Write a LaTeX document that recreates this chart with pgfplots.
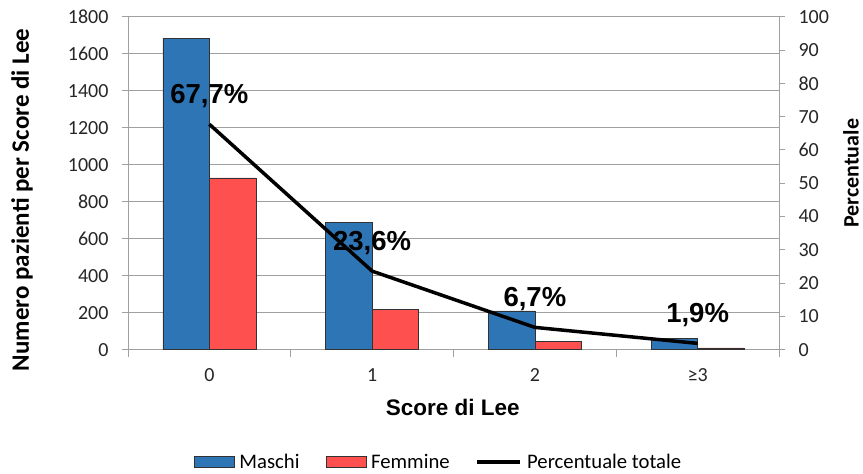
\documentclass[border=0pt]{standalone}
\usepackage{fontspec}
\setmainfont{Carlito}
\newfontfamily\arialfont{Liberation Sans}
\usepackage{pgfplots}
\pgfplotsset{compat=1.18}
\pgfplotsset{
  barlegend/.style={legend image code/.code={\draw[##1, line width=0.6pt] (0pt,-5.5pt) rectangle (40pt,5.5pt);}},
  linelegend/.style={legend image code/.code={\draw[##1] (0pt,0pt) -- (43pt,0pt);}},
}
\definecolor{mblue}{RGB}{46,117,182}
\definecolor{fred}{RGB}{255,80,80}
\definecolor{gridgray}{RGB}{160,160,160}
\definecolor{edge}{RGB}{50,50,50}
\pgfplotstableread{
x m f
0 1684 929
1 690 217
2 210 45
3 62 10
}\counts
\begin{document}
\begin{tikzpicture}
\useasboundingbox (-128pt,-124.3pt) rectangle (735pt,349.7pt);
\begin{axis}[
  scale only axis, width=651pt, height=333pt,
  at={(0,0)}, anchor=south west,
  xmin=-0.5, xmax=3.5, ymin=0, ymax=1800,
  ybar=0pt, bar width=46.5pt,
  axis x line*=bottom, axis y line*=left,
  axis line style={gridgray, line width=0.8pt, -},
  xtick={0,1,2,3}, xticklabels={0,1,2,≥3},
  major x tick style={draw=none},
  minor xtick={-0.5,0.5,1.5,2.5,3.5},
  minor tick length=7pt, major tick length=6pt,
  tick align=outside,
  tick style={gridgray, line width=0.8pt},
  ytick={0,200,...,1800},
  ymajorgrids, grid style={gridgray, line width=0.8pt},
  /pgf/number format/assume math mode=true,
  /pgf/number format/1000 sep={},
  tick label style={font=\fontsize{20}{23}\selectfont, text=black!85},
  xticklabel style={yshift=-9pt},
  yticklabel style={xshift=-10pt},
  xlabel={\arialfont\bfseries Score di Lee},
  xlabel style={font=\fontsize{22.5}{26}\selectfont, at={(axis description cs:0.499,-0.172)}, anchor=center},
  ylabel={\bfseries Numero pazienti per Score di Lee},
  ylabel style={font=\fontsize{25}{28}\selectfont, at={(axis description cs:-0.1628,0.45)}, anchor=center, rotate=0},
  legend columns=3,
  legend style={draw=none, fill=none, at={(axis description cs:0.477,-0.337)}, anchor=center,
    font=\fontsize{20.7}{23}\selectfont,
    /tikz/every odd column/.append style={column sep=3pt},
    /tikz/every even column/.append style={column sep=24pt},
    cells={anchor=west}},
]
\addplot[fill=mblue, draw=edge, line width=0.6pt, barlegend] table[x=x, y=m]{\counts};
\addlegendentry{Maschi}
\addplot[fill=fred, draw=edge, line width=0.6pt, barlegend] table[x=x, y=f]{\counts};
\addlegendentry{Femmine}
\addlegendimage{black, line width=3.5pt, linelegend}
\addlegendentry{Percentuale totale}
\end{axis}
\begin{axis}[
  scale only axis, width=651pt, height=333pt,
  at={(0,0)}, anchor=south west,
  xmin=-0.5, xmax=3.5, ymin=0, ymax=100,
  axis x line=none, axis y line*=right,
  axis line style={gridgray, line width=0.8pt, -},
  ytick={0,10,...,100},
  tick align=outside, major tick length=6pt,
  tick style={gridgray, line width=0.8pt},
  /pgf/number format/assume math mode=true,
  tick label style={font=\fontsize{20}{23}\selectfont, text=black!85},
  yticklabel style={xshift=10pt},
  ylabel={\bfseries Percentuale},
  ylabel style={font=\fontsize{22}{24}\selectfont, at={(axis description cs:1.1106,0.53)}, anchor=center, rotate=0},
  clip=false,
]
\addplot[black, line width=3.5pt, mark=none,
  nodes near coords, point meta=explicit symbolic,
  nodes near coords style={font=\arialfont\bfseries\fontsize{27.5}{30}\selectfont, anchor=center, yshift=28pt, text=black}]
  table[x=x, y=p, meta=lab]{
x p lab
0 67.7 67,7\%
1 23.6 23,6\%
2 6.7 6,7\%
3 1.9 1,9\%
};
\end{axis}
\end{tikzpicture}
\end{document}
